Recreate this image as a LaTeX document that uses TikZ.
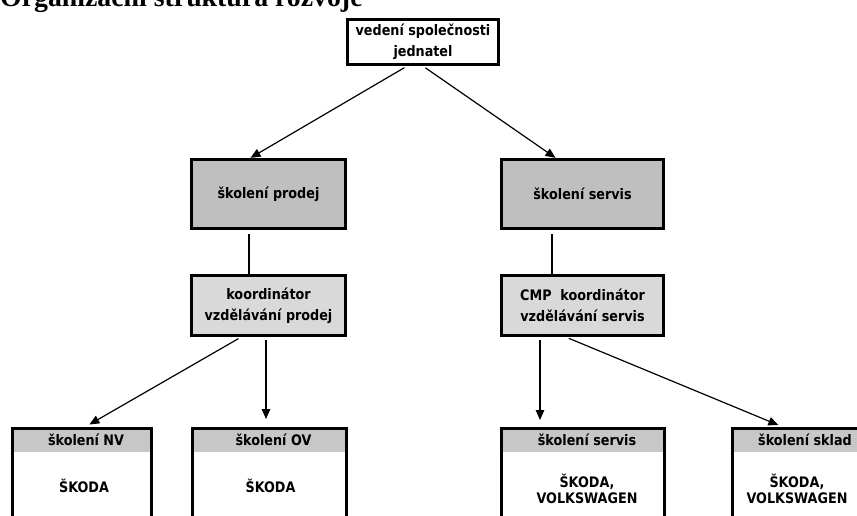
\documentclass[tikz,border=0pt]{standalone}
\usepackage{fontspec}
\setmainfont{Liberation Serif}
\newfontfamily\popisfont[FakeStretch=0.88]{DejaVu Sans}
\usepackage{tikz}
\usetikzlibrary{arrows.meta}

\begin{document}
\begin{tikzpicture}[x=1pt, y=-1pt,
        ramecek/.style={draw, rectangle, line width=2.8pt, align=center, font={\popisfont\bfseries\fontsize{14.5}{21}\selectfont}},
        skoleni/.style={ramecek, fill=black!25, minimum height=69.5pt},
        koordinator/.style={ramecek, fill=black!15, minimum height=60.5pt},
        kurz/.style={draw, rectangle, line width=2.8pt, anchor=north, minimum height=110pt,
            path picture={\fill[black!22] (path picture bounding box.north west) rectangle ([yshift=-24pt]path picture bounding box.north east);}},
        popis/.style={align=center, font={\popisfont\bfseries\fontsize{14.5}{15.5}\selectfont}},
        sipka/.style={line width=1.2pt, -{Triangle[length=10pt,width=8.5pt]}, shorten <=3pt},
        spoj/.style={line width=1.2pt, shorten <=4pt}]
        \useasboundingbox (0,0) rectangle (857,516);
        \clip (0,0) rectangle (857,516);

        % Nadpis
        \node[anchor=base west, inner sep=0pt, font={\bfseries\fontsize{27.8}{30}\selectfont}] (nadpis) at (0,7) {Organizační struktura rozvoje};

        % Vedení
        \node[ramecek, fill=white, minimum width=151.5pt, minimum height=45.5pt] (vedeni) at (423,42) {vedení společnosti\\jednatel};

        % Školení
        \node[skoleni, minimum width=154.5pt] (prodej) at (268.5,194) {školení prodej};
        \node[skoleni, minimum width=162.5pt] (servis) at (582.5,194) {školení servis};

        % Koordinátoři
        \node[koordinator, minimum width=154.5pt] (koordP) at (268.5,305.5) {koordinátor\\vzdělávání prodej};
        \node[koordinator, minimum width=162.5pt] (koordS) at (582.5,305.5) {CMP\ \ koordinátor\\vzdělávání servis};

        % Kurzy
        \node[kurz, minimum width=139.5pt] (nv) at (82,427) {};
        \node[kurz, minimum width=154.5pt] (ov) at (269.5,427) {};
        \node[kurz, minimum width=163.5pt] (servisK) at (583,427) {};
        \node[kurz, minimum width=129.5pt] (sklad) at (797,427) {};

        \node[popis] (nvHlava) at ([xshift=4pt, yshift=-13pt]nv.north) {školení NV};
        \node[popis] (ovHlava) at ([xshift=4pt, yshift=-13pt]ov.north) {školení OV};
        \node[popis] (servisHlava) at ([xshift=4pt, yshift=-13pt]servisK.north) {školení servis};
        \node[popis] (skladHlava) at ([xshift=8pt, yshift=-13pt]sklad.north) {školení sklad};

        \node[popis] (nvZnacka) at ([xshift=2pt, yshift=-59pt]nv.north) {ŠKODA};
        \node[popis] (ovZnacka) at ([xshift=1pt, yshift=-59pt]ov.north) {ŠKODA};
        \node[popis] (servisZnacka) at ([xshift=4pt, yshift=-62pt]servisK.north) {ŠKODA,\\VOLKSWAGEN};
        \node[popis] (skladZnacka) at ([yshift=-62pt]sklad.north) {ŠKODA,\\VOLKSWAGEN};

        % Spoje
        \draw[sipka] ([xshift=-16pt]vedeni.south) -- ([xshift=-18pt]prodej.north);
        \draw[sipka] (vedeni.south) -- ([xshift=-27pt]servis.north);
        \draw[spoj] ([xshift=-19.5pt]prodej.south) -- ([xshift=-19.5pt]koordP.north);
        \draw[spoj] ([xshift=-30.5pt]servis.south) -- ([xshift=-30.5pt]koordS.north);
        \draw[sipka, shorten >=5pt] ([xshift=-27.5pt]koordP.south) -- ([xshift=3pt]nv.north);
        \draw[sipka, shorten >=8pt] ([xshift=-2.5pt]koordP.south) -- ([xshift=-3.5pt]ov.north);
        \draw[sipka, shorten >=7pt] ([xshift=-42.5pt]koordS.south) -- ([xshift=-43pt]servisK.north);
        \draw[sipka, shorten >=5pt] ([xshift=-16.5pt]koordS.south) -- ([xshift=-14pt]sklad.north);
    \end{tikzpicture}
\end{document}
